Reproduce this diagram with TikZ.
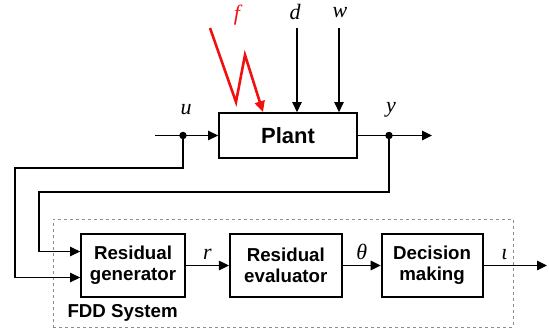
\documentclass[tikz,border=0pt]{standalone}
\usepackage{fontspec}
\setmainfont{Liberation Sans}
\newfontfamily\sigfont{Liberation Serif}
\usepackage{tikz}
\usetikzlibrary{arrows.meta, positioning}
\definecolor{fltred}{HTML}{F01010}
\definecolor{fddgray}{HTML}{8C8C8C}

\begin{document}
\begin{tikzpicture}[
  x=1pt, y=-1pt,
  node distance=40pt,
  block/.style={rectangle, draw=black, line width=1.8pt, fill=white,
    minimum width=104pt, minimum height=63pt,
    align=center, font=\fontsize{18.7}{21}\selectfont\bfseries},
  arr/.style={-{Triangle[length=10pt, width=9.5pt]}, line width=1.2pt},
  farr/.style={-{Triangle[length=11pt, width=10pt]}, line width=2.6pt,
    color=fltred, line join=miter},
  lbl/.style={font=\fontsize{22}{22}\selectfont\sigfont\itshape},
  tap/.style={circle, fill=black, inner sep=0pt, minimum size=7.5pt}
]
  \useasboundingbox (0,0) rectangle (549,332);

  % FDD frame
  \node[draw=fddgray, dashed, line width=0.8pt, minimum width=460pt,
    minimum height=108pt, inner sep=0pt] (fdd) at (283,273) {};
  \node[anchor=west, font=\fontsize{18.7}{21}\selectfont\bfseries]
    (fddlbl) at (64,313) {FDD System};

  % blocks
  \node[block, minimum width=138pt, minimum height=45pt,
    font=\fontsize{22}{24}\selectfont\bfseries] (plant) at (288,135.5) {Plant};
  \node[block] (gen) at (133,265.5) {Residual\\generator};
  \node[block, minimum width=112pt, right=43pt of gen] (eval)
    {Residual\\evaluator};
  \node[block, minimum width=101pt, right=38pt of eval] (dec) {Decision\\making};

  % plant signals
  \coordinate (uin) at (155,135.5);
  \node[tap] (udot) at (183,135.5) {};
  \node[tap] (ydot) at (389,135.5) {};
  \coordinate (yout) at (432,135.5);
  \coordinate (din) at (297,28);
  \coordinate (win) at (339,28);
  \coordinate (fin) at (210,28);
  \coordinate (fa) at (236,102);
  \coordinate (fb) at (245,55);
  \coordinate (ubend) at (15,168);
  \coordinate (ybend) at (39,192);
  \coordinate (iout) at (547,265.5);

  \draw[arr] (uin) -- (plant);
  \draw[arr] (plant) -- (yout);
  \draw[arr] (din) -- (din |- plant.north);
  \draw[arr] (win) -- (win |- plant.north);
  \draw[farr] (fin) -- (fa) -- (fb) -- ([xshift=-25pt]plant.north);

  \node[lbl] (ulbl) at (186,110) {u};
  \node[lbl] (ylbl) at (391,110) {y};
  \node[lbl] (dlbl) at (295,12) {d};
  \node[lbl] (wlbl) at (340,13) {w};
  \node[lbl, text=fltred] (flbl) at (237,15) {f};

  % feedback into generator
  \draw[arr] (udot) |- (ubend) |- ([yshift=-12pt]gen.west);
  \draw[arr] (ydot) |- (ybend) |- ([yshift=14pt]gen.west);

  % chain
  \draw[arr] (gen) -- node[lbl, above=2pt] {r} (eval);
  \draw[arr] (eval) -- node[lbl, above=2pt] {θ} (dec);
  \draw[arr] (dec) -- node[lbl, above=2pt, pos=0.33] {ι} (iout);
\end{tikzpicture}
\end{document}
